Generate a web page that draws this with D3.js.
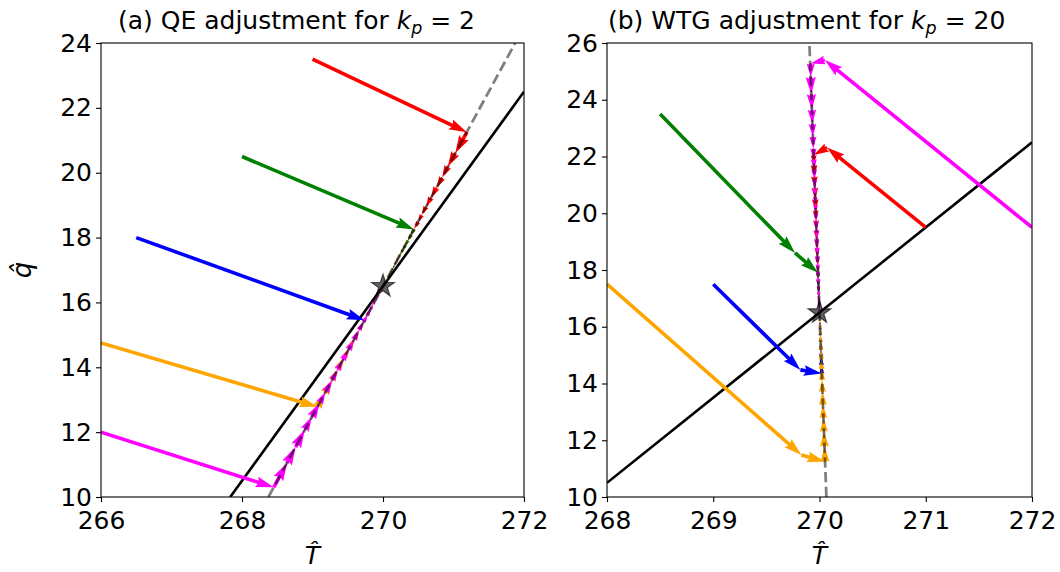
<!DOCTYPE html>
<html><head><meta charset="utf-8">
<script src="https://cdn.jsdelivr.net/npm/d3@7"></script>
<style>
body{margin:0;background:#fff}
svg{display:block}
text{font-family:"DejaVu Sans",sans-serif}
</style>
</head><body>
<svg id="c" width="1060" height="572"></svg>
<script>
// ---------- data ----------
const seriesNames = ["red","green","blue","orange","magenta"];
const seriesColors = ["#ff0000","#008000","#0000ff","#ffa500","#ff00ff"];
const titlesPrefix = ["(a) QE adjustment for ", "(b) WTG adjustment for "];
const titlesKp = ["2", "20"];

// panel (a)
const aXTicks = [266,268,270,272];
const aYTicks = [10,12,14,16,18,20,22,24];
const aXDomain = [266,272];
const aYDomain = [10,24];
const aBlackLine = [[267.833,10],[272,22.5]];
const aDashedLine = [[268.375,10],[271.875,24]];
const aEquilibrium = [270,16.5];
const aRed = [[269,23.5],[271.19,21.25],[271.025,20.6],[270.92,20.19],[270.84,19.85],[270.76,19.54],[270.68,19.23],[270.61,18.95],[270.55,18.7],[270.50,18.48],[270.44,18.27],[270.40,18.08],[270.35,17.9],[270.31,17.74],[270.275,17.6],[270.24,17.47],[270.21,17.35],[270.185,17.24],[270.16,17.14],[270.14,17.05],[270.12,16.97],[270.10,16.9],[270.08,16.83],[270.07,16.77],[270.055,16.72],[270.04,16.67],[270.03,16.62],[270.02,16.58],[270.01,16.55],[270.0,16.5]];
const aGreen = [[268,20.5],[270.44,18.25],[270.395,18.08],[270.355,17.92],[270.32,17.77],[270.28,17.63],[270.25,17.5],[270.22,17.39],[270.20,17.29],[270.175,17.2],[270.155,17.12],[270.135,17.04],[270.12,16.97],[270.10,16.9],[270.085,16.84],[270.07,16.78],[270.055,16.72],[270.04,16.67],[270.03,16.62],[270.02,16.58],[270.01,16.54],[270.0,16.5]];
const aBlue = [[266.5,18],[269.74,15.45],[269.775,15.6],[269.81,15.73],[269.84,15.85],[269.86,15.95],[269.89,16.05],[269.91,16.13],[269.925,16.2],[269.94,16.27],[269.96,16.33],[269.97,16.38],[269.98,16.43],[269.99,16.47],[270,16.5]];
const aOrange = [[266,14.75],[269.07,12.78],[269.175,13.2],[269.275,13.6],[269.36,13.95],[269.45,14.3],[269.525,14.6],[269.6,14.9],[269.66,15.15],[269.725,15.4],[269.775,15.6],[269.825,15.8],[269.86,15.95],[269.9,16.1],[269.925,16.2],[269.95,16.3],[269.97,16.38],[269.985,16.44],[270,16.5]];
const aMagenta = [[266,12],[268.45,10.3],[268.64,11.05],[268.76,11.54],[268.89,12.07],[268.99,12.47],[269.10,12.9],[269.185,13.24],[269.28,13.61],[269.355,13.92],[269.43,14.23],[269.51,14.54],[269.59,14.85],[269.66,15.15],[269.725,15.4],[269.78,15.62],[269.825,15.8],[269.86,15.95],[269.895,16.08],[269.92,16.18],[269.94,16.27],[269.96,16.34],[269.975,16.4],[269.985,16.44],[269.99,16.47],[270,16.5]];

// panel (b)
const bXTicks = [268,269,270,271,272];
const bYTicks = [10,12,14,16,18,20,22,24,26];
const bXDomain = [268,272];
const bYDomain = [10,26];
const bBlackLine = [[268,10.5],[272,22.5]];
const bDashedLine = [[270.065,10],[269.905,26]];
const bEquilibrium = [270,16.5];
const bRed = [[271,19.5],[270.07,22.32],[269.945,22.05],[269.948,21.7],[269.952,21.3],[269.956,20.9],[269.96,20.5],[269.964,20.1],[269.9675,19.75],[269.971,19.4],[269.9745,19.05],[269.9775,18.75],[269.9805,18.45],[269.9835,18.15],[269.986,17.9],[269.9885,17.65],[269.991,17.4],[269.993,17.2],[269.995,17.0],[269.9965,16.85],[269.998,16.7],[269.999,16.6],[270,16.5]];
const bGreen = [[268.5,23.5],[269.77,18.6],[269.986,17.9],[269.9885,17.65],[269.991,17.4],[269.993,17.2],[269.995,17.02],[269.996,16.88],[269.9975,16.75],[269.9986,16.64],[269.9994,16.56],[270,16.5]];
const bBlue = [[269,17.5],[269.82,14.48],[270.0215,14.35],[270.0185,14.65],[270.0155,14.95],[270.0128,15.22],[270.0103,15.47],[270.008,15.7],[270.006,15.9],[270.0043,16.07],[270.0028,16.22],[270.0015,16.35],[270.0006,16.44],[270,16.5]];
const bOrange = [[268,17.5],[269.83,11.48],[270.0526,11.24],[270.047,11.77],[270.042,12.3],[270.037,12.78],[270.0326,13.24],[270.028,13.7],[270.0238,14.12],[270.02,14.5],[270.0165,14.85],[270.0133,15.17],[270.0104,15.46],[270.0078,15.72],[270.0056,15.94],[270.0038,16.12],[270.0023,16.27],[270.0011,16.39],[270,16.5]];
const bMagenta = [[272,19.5],[270.05,25.4],[269.918,25.28],[269.917,24.8],[269.923,24.2],[269.9285,23.65],[269.9335,23.15],[269.938,22.7],[269.942,22.28],[269.946,21.9],[269.9495,21.55],[269.953,21.2],[269.956,20.88],[269.959,20.58],[269.962,20.3],[269.965,20.0],[269.968,19.7],[269.971,19.4],[269.974,19.1],[269.977,18.8],[269.98,18.5],[269.983,18.2],[269.9855,17.95],[269.988,17.7],[269.9905,17.45],[269.9925,17.25],[269.9945,17.05],[269.996,16.9],[269.9975,16.75],[269.9988,16.62],[270,16.5]];

// ---------- drawing ----------
const svg = d3.select("#c");
const FS = 25;
const AW = 3.6; // arrow shaft width (px)

function arrowPts(x0,y0,x1,y1){
  const dx=x1-x0, dy=y1-y0, L=Math.hypot(dx,dy);
  if(L<0.3) return null;
  const HL=5*AW, HAL=4.5*AW, hw=1.5*AW, sh=0.5*AW;
  let pts;
  if(L>=HL){
    pts=[[0,-sh],[L-HAL,-sh],[L-HL,-hw],[L,0],[L-HL,hw],[L-HAL,sh],[0,sh]];
  } else {
    const s=L/HL;
    pts=[[0,-sh],[HL-HAL,-sh],[0,-hw],[HL,0],[0,hw],[HL-HAL,sh],[0,sh]].map(p=>[p[0]*s,p[1]*s]);
  }
  const ux=dx/L, uy=dy/L;
  return pts.map(([u,v])=>[x0+u*ux - v*uy, y0+u*uy + v*ux]);
}

function starPath(cx,cy,r){
  const ri=r*0.381966; const pts=[];
  for(let i=0;i<10;i++){
    const a=-Math.PI/2 + i*Math.PI/5;
    const rr = i%2===0? r: ri;
    pts.push([cx+rr*Math.cos(a), cy+rr*Math.sin(a)]);
  }
  return "M"+pts.map(p=>p.join(",")).join("L")+"Z";
}

function panel(cfg){
  const g = svg.append("g");
  const x = d3.scaleLinear().domain(cfg.xDomain).range([cfg.left,cfg.right]);
  const y = d3.scaleLinear().domain(cfg.yDomain).range([cfg.bottom,cfg.top]);
  const clipId = "clip"+cfg.id;
  svg.append("clipPath").attr("id",clipId).append("rect")
    .attr("x",cfg.left).attr("y",cfg.top).attr("width",cfg.right-cfg.left).attr("height",cfg.bottom-cfg.top);
  const plot = g.append("g").attr("clip-path",`url(#${clipId})`);
  const line = d3.line().x(d=>x(d[0])).y(d=>y(d[1]));

  plot.append("path").attr("d",line(cfg.black)).attr("fill","none").attr("stroke","#000").attr("stroke-width",2.6);

  cfg.series.forEach((s,i)=>{
    const col = seriesColors[i];
    for(let k=0;k<s.length-1;k++){
      const p = arrowPts(x(s[k][0]),y(s[k][1]),x(s[k+1][0]),y(s[k+1][1]));
      if(!p) continue;
      plot.append("path").attr("d","M"+p.map(q=>q.join(",")).join("L")+"Z").attr("fill",col).attr("stroke","none");
    }
  });

  plot.append("path").attr("d",line(cfg.dashed)).attr("fill","none").attr("stroke","#000")
    .attr("stroke-opacity",0.5).attr("stroke-width",2.78).attr("stroke-dasharray","10.3,4.4");

  plot.append("path").attr("d",starPath(x(cfg.eq[0]),y(cfg.eq[1]),12))
    .attr("fill","#000").attr("fill-opacity",0.62).attr("stroke","#000").attr("stroke-opacity",0.62).attr("stroke-width",1.2);

  // axes
  const xa = g.append("g").attr("transform",`translate(0,${cfg.bottom})`)
    .call(d3.axisBottom(x).tickValues(cfg.xTicks).tickSize(5).tickPadding(9).tickSizeOuter(0).tickFormat(d3.format("d")));
  const ya = g.append("g").attr("transform",`translate(${cfg.left},0)`)
    .call(d3.axisLeft(y).tickValues(cfg.yTicks).tickSize(5).tickPadding(4).tickSizeOuter(0).tickFormat(d3.format("d")));
  [xa,ya].forEach(a=>{
    a.select(".domain").remove();
    a.selectAll("line").attr("stroke","#000").attr("stroke-width",1.1);
    a.selectAll("text").attr("font-size",FS).attr("font-family","DejaVu Sans").attr("fill","#000");
  });
  g.append("rect").attr("x",cfg.left).attr("y",cfg.top).attr("width",cfg.right-cfg.left).attr("height",cfg.bottom-cfg.top)
    .attr("fill","none").attr("stroke","#000").attr("stroke-width",1.1);

  // title
  const t = g.append("text").attr("x",cfg.titleX).attr("y",29).attr("font-size",FS).attr("fill","#000");
  t.append("tspan").text(titlesPrefix[cfg.id]);
  t.append("tspan").attr("font-style","italic").text("k");
  t.append("tspan").attr("font-style","italic").attr("font-size",FS*0.7).attr("dy",5).text("p");
  t.append("tspan").attr("dy",-5).text(" = "+titlesKp[cfg.id]);

  // x label
  g.append("text").attr("x",(cfg.left+cfg.right)/2).attr("y",564).attr("text-anchor","middle")
    .attr("font-size",FS).attr("font-style","italic").text("T\u0302");
}

panel({id:0,left:101,right:524,top:43,bottom:497,xDomain:aXDomain,yDomain:aYDomain,xTicks:aXTicks,yTicks:aYTicks,
  black:aBlackLine,dashed:aDashedLine,eq:aEquilibrium,series:[aRed,aGreen,aBlue,aOrange,aMagenta],titleX:118});
panel({id:1,left:607,right:1032,top:43,bottom:497,xDomain:bXDomain,yDomain:bYDomain,xTicks:bXTicks,yTicks:bYTicks,
  black:bBlackLine,dashed:bDashedLine,eq:bEquilibrium,series:[bRed,bGreen,bBlue,bOrange,bMagenta],titleX:608});

// y label
svg.append("text").attr("transform","translate(31,270) rotate(-90)").attr("text-anchor","middle")
  .attr("font-size",FS+1).attr("font-style","italic").text("q\u0302");
</script>
</body></html>
